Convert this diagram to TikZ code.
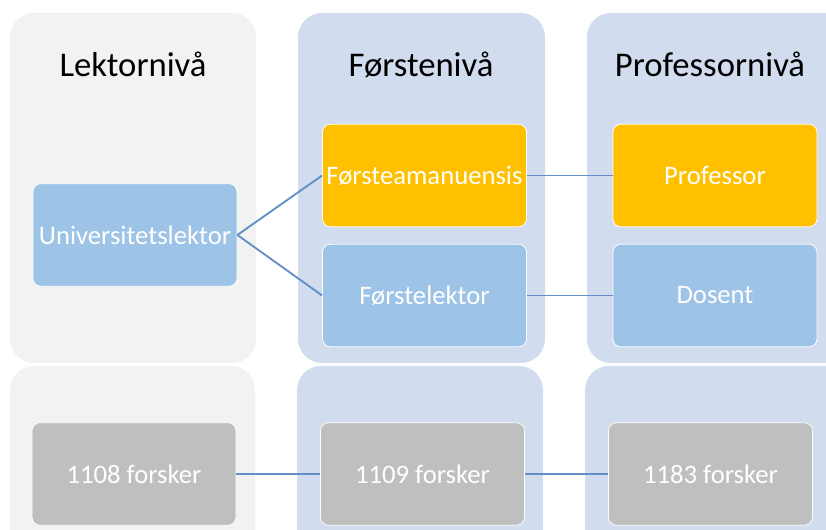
\documentclass[tikz,border=0pt]{standalone}
\usepackage{fontspec}
\setmainfont{Carlito}
\usetikzlibrary{arrows}
\definecolor{panelgray}{HTML}{F2F2F2}
\definecolor{panelblue}{HTML}{D1DCEE}
\definecolor{postblue}{HTML}{9DC3E6}
\definecolor{postgold}{HTML}{FFC000}
\definecolor{postgray}{HTML}{BFBFBF}
\definecolor{linkblue}{HTML}{628FC6}
\tikzstyle{post} = [rectangle, draw=white, line width=0.6pt, rounded corners=6pt,
    text=white, font=\fontsize{20}{24}\selectfont, minimum width=153pt,
    minimum height=77pt, inner sep=1pt]

\begin{document}
\begin{tikzpicture}[x=0.75pt, y=-0.75pt,
panel/.style = {rounded corners=18pt},
title/.style = {font=\fontsize{26}{30}\selectfont, text=black, anchor=base},
link/.style = {draw=linkblue, line width=1.4pt},
                        ]
\useasboundingbox (0,0) rectangle (826,530);
\clip (0,0) rectangle (826,530);
% panels, top row
\fill[panelgray, panel] (10,13) rectangle (256,363);
\fill[panelblue, panel] (298,13) rectangle (545,363);
\fill[panelblue, panel] (587,13) rectangle (860,363);
% panels, bottom row
\fill[panelgray, panel] (10,366) rectangle (255,570);
\fill[panelblue, panel] (297,366) rectangle (543,570);
\fill[panelblue, panel] (585,366) rectangle (860,570);
% titles
\node[title] (lektorniva) at (133,77) {Lektornivå};
\node[title] (forsteniva) at (421,77) {Førstenivå};
\node[title] (profniva) at (710,77) {Professornivå};
% posts
\node[post, fill=postblue] (univlektor) at (135,235) {Universitetslektor};
\node[post, fill=postgold] (amanuensis) at (424.5,175.5) {Førsteamanuensis};
\node[post, fill=postblue] (forstelektor) at (424.5,295.5) {Førstelektor};
\node[post, fill=postgold] (professor) at (715,175.5) {Professor};
\node[post, fill=postblue] (dosent) at (715,295.5) {Dosent};
% researcher grades
\node[post, fill=postgray] (forsker1108) at (134,474) {1108 forsker};
\node[post, fill=postgray] (forsker1109) at (422.5,474) {1109 forsker};
\node[post, fill=postgray] (forsker1183) at (710.5,474) {1183 forsker};
% links
\draw[link] (univlektor.east) -- (amanuensis.west);
\draw[link] (univlektor.east) -- (forstelektor.west);
\draw[link] (amanuensis.east) -- (professor.west);
\draw[link] (forstelektor.east) -- (dosent.west);
\draw[link] (forsker1108.east) -- (forsker1109.west);
\draw[link] (forsker1109.east) -- (forsker1183.west);
\end{tikzpicture}
\end{document}
